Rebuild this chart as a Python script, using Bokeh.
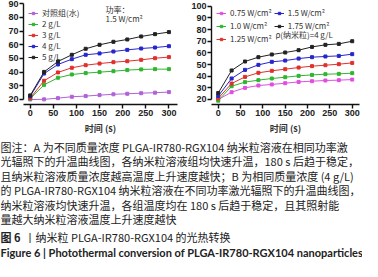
import math
from bokeh.plotting import figure
from bokeh.models import Range1d, Legend, LegendItem, Label, FixedTicker
from bokeh.layouts import column, row
from bokeh.embed import file_html
from bokeh.resources import INLINE
from bokeh.core.properties import value

# ---------------- data ----------------
time_s = [0, 30, 60, 90, 120, 150, 180, 210, 240, 270, 300]
x_ticks = [0, 50, 100, 150, 200, 250, 300]

a_labels = ["对照组(水)", "2 g/L", "3 g/L", "4 g/L", "5 g/L"]
a_control = [20.0, 20.1, 21.0, 22.0, 22.5, 23.2, 23.8, 24.2, 24.6, 25.0, 25.4]
a_2g = [20.6, 30.7, 35.9, 38.3, 39.3, 40.0, 40.7, 41.5, 42.0, 42.2, 42.2]
a_3g = [21.0, 33.7, 39.8, 43.2, 45.1, 46.3, 47.3, 48.0, 49.0, 50.2, 51.0]
a_4g = [22.3, 39.0, 45.6, 49.5, 52.7, 53.7, 55.1, 56.3, 57.3, 58.0, 59.0]
a_5g = [23.0, 40.2, 47.8, 52.7, 57.1, 60.0, 62.2, 63.9, 66.1, 67.8, 69.3]
a_yticks = [20, 30, 40, 50, 60, 70, 80, 90]

b_labels = ["0.75 W/cm²", "1.0 W/cm²", "1.25 W/cm²", "1.5 W/cm²", "1.75 W/cm²"]
b_075 = [20.0, 26.3, 30.0, 32.0, 32.9, 34.0, 35.1, 35.7, 36.3, 36.6, 37.1]
b_100 = [19.0, 31.4, 34.9, 36.6, 38.0, 39.1, 40.3, 41.1, 41.7, 42.0, 42.6]
b_125 = [21.0, 33.7, 39.4, 42.9, 44.6, 46.0, 47.4, 48.6, 49.4, 50.3, 51.4]
b_150 = [23.0, 38.0, 45.4, 49.7, 52.3, 53.4, 55.1, 56.3, 56.9, 57.4, 58.9]
b_175 = [25.5, 44.9, 52.6, 56.3, 58.6, 60.3, 62.3, 65.1, 66.9, 67.7, 70.0]
b_yticks = [20, 30, 40, 50, 60, 70, 80, 90, 100]

a_colors = ["#b062d6", "#2fb52f", "#e0302c", "#2626cc", "#222222"]
b_colors = ["#e04fe0", "#2fb52f", "#e0302c", "#2626cc", "#222222"]

caption_lines = [
    "图注：A 为不同质量浓度 PLGA-IR780-RGX104 纳米粒溶液在相同功率激",
    "光辐照下的升温曲线图，各纳米粒溶液组均快速升温，180 s 后趋于稳定，",
    "且纳米粒溶液质量浓度越高温度上升速度越快；B 为相同质量浓度 (4 g/L)",
    "的 PLGA-IR780-RGX104 纳米粒溶液在不同功率激光辐照下的升温曲线图，",
    "纳米粒溶液均快速升温，各组温度均在 180 s 后趋于稳定，且其照射能",
    "量越大纳米粒溶液温度上升速度越快",
]
title_cn_a = "图 6"
title_cn_b = "丨纳米粒 PLGA-IR780-RGX104 的光热转换"
title_en = "Figure 6  |  Photothermal conversion of PLGA-IR780-RGX104 nanoparticles"

CJK = "Noto Sans CJK SC"
LAT = "Liberation Sans"


def make_chart(width, xr, yr, ybounds, yticks, min_left, min_right):
    p = figure(width=width, height=140, x_range=Range1d(*xr), y_range=Range1d(*yr),
               output_backend="svg", toolbar_location=None,
               min_border_left=min_left, min_border_right=min_right,
               min_border_top=2, min_border_bottom=36)
    p.outline_line_color = None
    p.grid.visible = False
    p.yaxis.bounds = ybounds
    p.yaxis.ticker = FixedTicker(ticks=yticks)
    p.xaxis.ticker = FixedTicker(ticks=x_ticks)
    for ax in (p.xaxis[0], p.yaxis[0]):
        ax.axis_line_width = 1.4
        ax.axis_line_color = "#111111"
        ax.major_tick_line_width = 1.4
        ax.major_tick_line_color = "#111111"
        ax.major_tick_out = 4
        ax.major_tick_in = 0
        ax.minor_tick_line_color = None
        ax.major_label_text_font = LAT
        ax.major_label_text_font_style = "bold"
        ax.major_label_text_font_size = "9px"
        ax.major_label_text_color = "#222222"
        ax.major_label_standoff = 1
    p.xaxis.axis_label = "时间 (s)"
    p.xaxis.axis_label_text_font = CJK
    p.xaxis.axis_label_text_font_style = "bold"
    p.xaxis.axis_label_text_font_size = "9px"
    p.xaxis.axis_label_text_color = "#333333"
    p.xaxis.axis_label_standoff = 3
    return p


def add_series(p, ys_list, colors, labels):
    items = []
    for ys, c, lab in zip(ys_list, colors, labels):
        r1 = p.line(time_s, ys, line_color=c, line_width=1)
        r2 = p.scatter(time_s, ys, marker="square", size=3, fill_color=c, line_color=c)
        items.append(LegendItem(label=lab, renderers=[r1, r2]))
    return items


def style_legend(lg):
    lg.location = "top_left"
    lg.margin = 2
    lg.padding = 3
    lg.spacing = 0
    lg.glyph_width = 10
    lg.glyph_height = 6
    lg.label_height = 6
    lg.label_standoff = 4
    lg.label_text_font = CJK
    lg.label_text_font_size = "8px"
    lg.label_text_color = "#333333"
    lg.background_fill_alpha = 0
    lg.border_line_alpha = 0


# ---------------- chart A ----------------
xa = (-14.5, 318.6)
pA = make_chart(182, xa, (16.34, 90.95), (20, 90), a_yticks, 23, 5)
itemsA = add_series(pA, [a_control, a_2g, a_3g, a_4g, a_5g], a_colors, a_labels)
lgA = Legend(items=itemsA)
style_legend(lgA)
pA.add_layout(lgA)
pA.add_layout(Label(x=xa[0], y=89.4, x_offset=-20.5, text="A", text_align="center",
                    text_baseline="middle", text_font=LAT, text_font_style="bold",
                    text_font_size="10px", text_color="#333333"))
pA.add_layout(Label(x=xa[0], y=54.4, x_offset=-18, text="温度(℃)", angle=math.pi / 2,
                    text_align="center", text_baseline="middle", text_font=CJK,
                    text_font_style="bold", text_font_size="9px", text_color="#333333"))
pA.add_layout(Label(x=163, y=85.8, text="功率：", text_baseline="middle", text_font=CJK,
                    text_font_size="8px", text_color="#333333"))
pA.add_layout(Label(x=163, y=79.2, text="1.5 W/cm²", text_baseline="middle", text_font=CJK,
                    text_font_size="8px", text_color="#333333"))

# ---------------- chart B ----------------
xb = (-15.0, 316.3)
pB = make_chart(180, xb, (15.71, 103.2), (20, 100), b_yticks, 29, 3)
itemsB = add_series(pB, [b_075, b_100, b_125, b_150, b_175], b_colors, b_labels)
lgB = Legend(items=itemsB, nrows=3)
style_legend(lgB)
lgB.spacing = 2
pB.add_layout(lgB)
pB.add_layout(Label(x=xb[0], y=101.3, x_offset=-22, text="B", text_align="center",
                    text_baseline="middle", text_font=LAT, text_font_style="bold",
                    text_font_size="10px", text_color="#333333"))
pB.add_layout(Label(x=xb[0], y=61.2, x_offset=-22, text="温度(℃)", angle=math.pi / 2,
                    text_align="center", text_baseline="middle", text_font=CJK,
                    text_font_style="bold", text_font_size="9px", text_color="#333333"))
pB.add_layout(Label(x=128, y=75.7, text="ρ(纳米粒)=4 g/L", text_baseline="middle",
                    text_font=CJK, text_font_size="8px", text_color="#333333"))

# ---------------- caption ----------------
pC = figure(width=362, height=121, x_range=Range1d(0, 362), y_range=Range1d(121, 0),
            output_backend="svg", toolbar_location=None, x_axis_type=None, y_axis_type=None,
            min_border=0)
pC.outline_line_color = None
pC.grid.visible = False
line_y = [6 + 14.5 * i for i in range(len(caption_lines))]
pC.text(x=[0] * len(caption_lines), y=line_y, text=caption_lines,
        text_font=value(CJK), text_font_size=value("11px"), text_baseline="middle",
        text_color="#222222")
pC.text(x=[0], y=[96], text=[title_cn_a], text_font=value(CJK), text_font_style="bold",
        text_font_size=value("11px"), text_baseline="middle", text_color="#222222")
pC.text(x=[24], y=[96], text=[title_cn_b], text_font=value(CJK),
        text_font_size=value("11px"), text_baseline="middle", text_color="#222222")
pC.text(x=[0], y=[112], text=[title_en], text_font=value("Lato"), text_font_style="bold",
        text_font_size=value("11px"), text_baseline="middle", text_color="#222222")

layout = column(row(pA, pB), pC)
open("out.html", "w").write(file_html(layout, INLINE))
